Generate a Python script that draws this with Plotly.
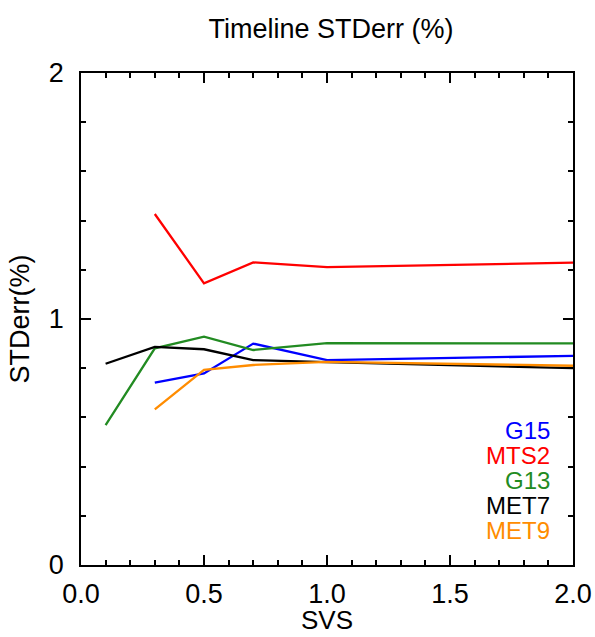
import plotly.graph_objects as go

svs = [0.1, 0.3, 0.5, 0.7, 1.0, 2.0]

g15 = [None, 0.741, 0.779, 0.900, 0.833, 0.850]
mts2 = [None, 1.427, 1.145, 1.230, 1.211, 1.229]
g13 = [0.569, 0.881, 0.928, 0.874, 0.902, 0.901]
met7 = [0.818, 0.887, 0.877, 0.833, 0.825, 0.800]
met9 = [None, 0.633, 0.793, 0.813, 0.826, 0.810]

series_names = ["G15", "MTS2", "G13", "MET7", "MET9"]
series_vals = [g15, mts2, g13, met7, met9]
colors = ["#0000FF", "#FF0000", "#228B22", "#000000", "#FF8C00"]

x_ticks = [0.0, 0.5, 1.0, 1.5, 2.0]
x_tick_labels = ["0.0", "0.5", "1.0", "1.5", "2.0"]
y_ticks = [0, 1, 2]
y_tick_labels = ["0", "1", "2"]

FONT = "Liberation Sans, Arial, Helvetica, sans-serif"

fig = go.Figure()
for name, vals, col in zip(series_names, series_vals, colors):
    fig.add_trace(go.Scatter(x=svs, y=vals, mode="lines", name=name,
                             line=dict(color=col, width=2.3), connectgaps=False,
                             showlegend=False))

# legend as coloured text, right aligned
for i, (name, col) in enumerate(zip(series_names, colors)):
    fig.add_annotation(text=name, xref="paper", yref="paper",
                       x=(552 - 80.5) / 492.5, y=(565 - 430 - 25.2 * i) / 492,
                       xanchor="right", yanchor="middle", showarrow=False,
                       font=dict(family=FONT, size=24, color=col))

# x-axis title
fig.add_annotation(text="SVS", xref="paper", yref="paper",
                   x=0.5, y=(565 - 620) / 492, xanchor="center", yanchor="middle",
                   showarrow=False, font=dict(family=FONT, size=26, color="black"))

axis_common = dict(
    showgrid=False, zeroline=False, showline=True, linecolor="black", linewidth=1.5,
    mirror="allticks", ticks="inside", tickcolor="black", tickwidth=1.5,
    tickfont=dict(family=FONT, size=27, color="black"), automargin=False,
)

fig.update_layout(
    width=595, height=637,
    margin=dict(l=80.5, r=22, t=73, b=72, autoexpand=False),
    paper_bgcolor="white", plot_bgcolor="white",
    title=dict(text="Timeline STDerr (%)", x=331 / 595, xanchor="center",
               y=1 - 29 / 637, yanchor="middle",
               font=dict(family=FONT, size=27, color="black")),
    xaxis=dict(range=[0, 2], tickmode="array", tickvals=x_ticks, ticktext=x_tick_labels,
               ticklen=10, ticklabelstandoff=4,
               minor=dict(dtick=0.1, ticks="inside", ticklen=5, tickcolor="black", tickwidth=1.5),
               **axis_common),
    yaxis=dict(range=[0, 2], tickmode="array", tickvals=y_ticks, ticktext=y_tick_labels,
               ticklen=10, ticklabelstandoff=10,
               minor=dict(dtick=0.2, ticks="inside", ticklen=5, tickcolor="black", tickwidth=1.5),
               title=dict(text="STDerr(%)", standoff=11, font=dict(family=FONT, size=27, color="black")),
               **axis_common),
)

fig.write_html("out.html")
